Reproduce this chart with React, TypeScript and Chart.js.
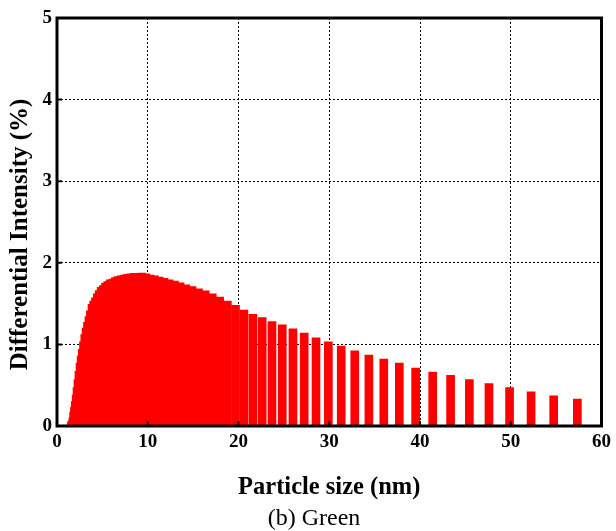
import React, { useEffect, useRef } from 'react';
import { Chart, registerables } from 'chart.js';

Chart.register(...registerables);

// Particle size bin centres (nm)
const sizes = [
  1.6, 1.67, 1.75, 1.83, 1.92, 2.01, 2.11, 2.21, 2.31, 2.42,
  2.54, 2.66, 2.79, 2.92, 3.06, 3.2, 3.36, 3.52, 3.68, 3.86,
  4.04, 4.24, 4.44, 4.65, 4.87, 5.1, 5.35, 5.6, 5.87, 6.15,
  6.44, 6.75, 7.07, 7.4, 7.76, 8.13, 8.51, 8.92, 9.34, 9.79,
  10.25, 10.74, 11.25, 11.79, 12.35, 12.94, 13.56, 14.2, 14.88, 15.59,
  16.33, 17.11, 17.92, 18.77, 19.67, 20.6, 21.59, 22.61, 23.69, 24.82,
  26.0, 27.24, 28.54, 29.9, 31.32, 32.81, 34.37, 36.01, 37.72, 39.52,
  41.4, 43.37, 45.44, 47.6, 49.87, 52.24, 54.73, 57.34,
];

// Differential intensity (%)
const intensity = [
  0.05, 0.06, 0.1, 0.17, 0.23, 0.3, 0.38, 0.47, 0.57, 0.67,
  0.77, 0.86, 0.94, 1.03, 1.12, 1.2, 1.27, 1.34, 1.41, 1.49,
  1.53, 1.57, 1.62, 1.66, 1.7, 1.72, 1.75, 1.77, 1.79, 1.8,
  1.82, 1.83, 1.84, 1.85, 1.86, 1.865, 1.87, 1.87, 1.875, 1.865,
  1.85, 1.84, 1.825, 1.81, 1.79, 1.775, 1.755, 1.73, 1.71, 1.68,
  1.655, 1.62, 1.58, 1.53, 1.48, 1.42, 1.37, 1.33, 1.28, 1.24,
  1.19, 1.14, 1.08, 1.03, 0.98, 0.92, 0.87, 0.82, 0.77, 0.71,
  0.66, 0.62, 0.57, 0.52, 0.47, 0.42, 0.37, 0.33,
];

const xTicks = [0, 10, 20, 30, 40, 50, 60];
const yTicks = [0, 1, 2, 3, 4, 5];

const xTitle = 'Particle size (nm)';
const yTitle = 'Differential Intensity (%)';
const caption = '(b) Green';

const FONT = "'Liberation Serif', 'Times New Roman', serif";

const framePlugin = {
  id: 'frame',
  afterDraw(chart: any) {
    const { ctx, chartArea } = chart;
    const { left, right, top, bottom } = chartArea;
    ctx.save();
    ctx.strokeStyle = '#000';
    ctx.lineWidth = 3;
    ctx.strokeRect(left, top, right - left, bottom - top);
    ctx.lineWidth = 2;
    const xs = chart.scales.x;
    const ys = chart.scales.y;
    ctx.beginPath();
    xTicks.forEach((v) => {
      const px = xs.getPixelForValue(v);
      ctx.moveTo(px, bottom);
      ctx.lineTo(px, bottom - 5);
    });
    yTicks.forEach((v) => {
      const py = ys.getPixelForValue(v);
      ctx.moveTo(left, py);
      ctx.lineTo(left + 5, py);
    });
    ctx.stroke();
    ctx.restore();
  },
};

export default function App() {
  const ref = useRef<HTMLCanvasElement>(null);

  useEffect(() => {
    const canvas = ref.current!;
    const tickFont = { family: FONT, size: 19, weight: 'bold' as const };
    const xTitleFont = { family: FONT, size: 24.5, weight: 'bold' as const };
    const yTitleFont = { family: FONT, size: 25, weight: 'bold' as const };
    const chart = new Chart(canvas, {
      type: 'bar',
      data: {
        datasets: [
          {
            data: sizes.map((s, i) => ({ x: s, y: intensity[i] })),
            backgroundColor: '#ff0000',
            borderWidth: 0,
            barThickness: 8,
          } as any,
        ],
      },
      options: {
        responsive: false,
        animation: false,
        devicePixelRatio: 1,
        layout: { padding: { left: 0, right: 13, top: 18, bottom: 25 } },
        plugins: {
          legend: { display: false },
          tooltip: { enabled: false },
        },
        scales: {
          x: {
            type: 'linear',
            min: 0,
            max: 60,
            offset: false,
            afterFit(s: any) {
              s.height = 80;
            },
            afterBuildTicks(s: any) {
              s.ticks = xTicks.map((v) => ({ value: v }));
            },
            ticks: {
              font: tickFont,
              color: '#000',
              padding: 5,
              maxRotation: 0,
              autoSkip: false,
            },
            grid: {
              drawTicks: false,
              offset: false,
              lineWidth: 1,
              color: (c: any) =>
                c.tick && (c.tick.value === 0 || c.tick.value === 60) ? 'rgba(0,0,0,0)' : '#000',
            },
            border: { display: false, dash: [2, 2] },
            title: {
              display: true,
              text: xTitle,
              font: xTitleFont,
              color: '#000',
              padding: { top: 0, bottom: 4 },
            },
          },
          y: {
            type: 'linear',
            min: 0,
            max: 5,
            afterFit(s: any) {
              s.width = 57;
            },
            afterBuildTicks(s: any) {
              s.ticks = yTicks.map((v) => ({ value: v }));
            },
            ticks: {
              font: tickFont,
              color: '#000',
              padding: 5,
            },
            grid: {
              drawTicks: false,
              lineWidth: 1,
              color: (c: any) =>
                c.tick && (c.tick.value === 0 || c.tick.value === 5) ? 'rgba(0,0,0,0)' : '#000',
            },
            border: { display: false, dash: [2, 2] },
            title: {
              display: true,
              text: yTitle + '    ',
              font: yTitleFont,
              color: '#000',
              padding: { top: 6, bottom: 0 },
            },
          },
        },
      } as any,
      plugins: [framePlugin],
    });
    return () => chart.destroy();
  }, []);

  return (
    <div style={{ position: 'absolute', left: 0, top: 0, width: 616, height: 531, background: '#fff' }}>
      <canvas ref={ref} width={616} height={531} style={{ display: 'block', width: 616, height: 531 }} />
      <div
        style={{
          position: 'absolute',
          left: 0,
          width: 628,
          top: 503,
          textAlign: 'center',
          fontFamily: FONT,
          fontSize: 24,
          lineHeight: '28px',
          color: '#000',
        }}
      >
        {caption}
      </div>
    </div>
  );
}
